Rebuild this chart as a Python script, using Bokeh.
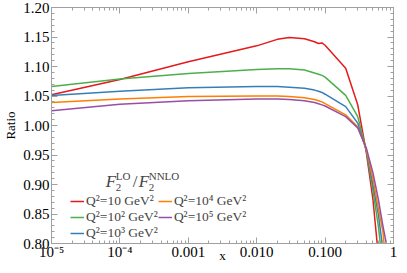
from bokeh.plotting import figure
from bokeh.models import (FixedTicker, LogAxis, LinearAxis, Legend, LegendItem, Label,
                          Range1d, CustomJSTickFormatter)
from bokeh.embed import file_html
from bokeh.resources import INLINE

# ---- data ----
x_vals = [1e-5, 1e-4, 1e-3, 0.01, 0.02, 0.03, 0.05, 0.07, 0.08, 0.09, 0.1,
          0.2, 0.3, 0.4, 0.5, 0.6, 0.7, 0.8, 0.9]
ratio_q10 = [1.052, 1.078, 1.108, 1.135, 1.146, 1.149, 1.147, 1.142, 1.139, 1.140, 1.136,
             1.097, 1.035, 0.955, 0.875, 0.78, 0.68, 0.57, 0.45]
ratio_q1e2 = [1.066, 1.079, 1.088, 1.095, 1.096, 1.096, 1.094, 1.089, 1.087, 1.085, 1.082,
              1.051, 1.015, 0.958, 0.89, 0.83, 0.76, 0.68, 0.58]
ratio_q1e3 = [1.051, 1.058, 1.064, 1.066, 1.066, 1.065, 1.063, 1.060, 1.058, 1.056, 1.053,
              1.032, 1.004, 0.958, 0.90, 0.85, 0.79, 0.72, 0.63]
ratio_q1e4 = [1.039, 1.045, 1.049, 1.050, 1.050, 1.049, 1.047, 1.044, 1.042, 1.040, 1.037,
              1.018, 0.998, 0.960, 0.91, 0.86, 0.82, 0.75, 0.67]
ratio_q1e5 = [1.025, 1.036, 1.042, 1.045, 1.045, 1.044, 1.042, 1.039, 1.037, 1.035, 1.033,
              1.015, 0.996, 0.962, 0.92, 0.875, 0.83, 0.795, 0.74]

series_names = ["Q²=10 GeV²", "Q²=10² GeV²", "Q²=10³ GeV²", "Q²=10⁴ GeV²", "Q²=10⁵ GeV²"]
series_values = [ratio_q10, ratio_q1e2, ratio_q1e3, ratio_q1e4, ratio_q1e5]
series_colors = ["#e41a1c", "#4daf4a", "#377eb8", "#ff7f00", "#984ea3"]

x_major = [1e-5, 1e-4, 1e-3, 1e-2, 1e-1, 1.0]
x_tick_labels = ["10⁻⁵", "10⁻⁴", "0.001", "0.010", "0.100", "1"]
y_major = [0.80, 0.85, 0.90, 0.95, 1.00, 1.05, 1.10, 1.15, 1.20]
y_tick_labels = ["0.80", "0.85", "0.90", "0.95", "1.00", "1.05", "1.10", "1.15", "1.20"]

FONT = "Liberation Serif"
FRAME = "#a0a0a0"

p = figure(width=399, height=265, x_axis_type="log",
           x_range=Range1d(1e-5, 1.0), y_range=Range1d(0.80, 1.20),
           output_backend="svg", toolbar_location=None,
           min_border_left=45, min_border_right=6, min_border_top=7, min_border_bottom=10)
p.grid.visible = False
p.outline_line_color = FRAME
p.background_fill_color = "white"

x_minor = [m * d for d in [1e-5, 1e-4, 1e-3, 1e-2, 1e-1] for m in range(2, 10)]
y_minor = [round(0.80 + 0.01 * i, 2) for i in range(41)]
xt = FixedTicker(ticks=x_major, minor_ticks=x_minor)
yt = FixedTicker(ticks=y_major, minor_ticks=y_minor)

xfmt = CustomJSTickFormatter(args=dict(labels=x_tick_labels),
                             code="return labels[Math.round(Math.log10(tick)) + 5];")
yfmt = CustomJSTickFormatter(args=dict(labels=y_tick_labels),
                             code="return labels[Math.round((tick - 0.8) / 0.05)];")
blank = CustomJSTickFormatter(code="return '';")


def style(ax):
    ax.axis_line_color = FRAME
    ax.major_tick_line_color = FRAME
    ax.minor_tick_line_color = FRAME
    ax.major_tick_in = 6
    ax.major_tick_out = 0
    ax.minor_tick_in = 3
    ax.minor_tick_out = 0
    ax.major_label_text_font = FONT
    ax.major_label_text_font_size = "15px"
    ax.major_label_text_color = "black"
    ax.axis_label_text_font = FONT
    ax.axis_label_text_font_style = "normal"
    ax.axis_label_text_font_size = "13px"
    ax.axis_label_text_color = "black"


p.xaxis.ticker = xt
p.xaxis.formatter = xfmt
p.yaxis.ticker = yt
p.yaxis.formatter = yfmt
style(p.xaxis[0])
style(p.yaxis[0])
p.yaxis.axis_label = "Ratio"
p.xaxis.axis_label = "x"
p.xaxis.major_label_standoff = 0
p.xaxis.axis_label_standoff = -15
p.yaxis.major_label_standoff = 2
p.yaxis.axis_label_standoff = 2

top = LogAxis(ticker=xt, formatter=blank)
right = LinearAxis(ticker=yt, formatter=blank)
for ax in (top, right):
    style(ax)
    ax.major_label_standoff = 0
    ax.major_label_text_font_size = "0px"
p.add_layout(top, "above")
p.add_layout(right, "right")

renderers = []
for vals, col in zip(series_values, series_colors):
    r = p.line(x_vals, vals, line_color=col, line_width=1.5)
    renderers.append(r)

items = [LegendItem(label=n, renderers=[r]) for n, r in zip(series_names, renderers)]
legend = Legend(items=items, ncols=2, orientation="vertical", location=(19, 2),
                background_fill_alpha=0, border_line_alpha=0, padding=0, margin=0,
                spacing=0, glyph_width=14, glyph_height=16, label_height=16,
                label_standoff=2, label_width=66,
                label_text_font=FONT, label_text_font_size="13.5px")
p.add_layout(legend, "center")

# legend title F2^LO / F2^NNLO
ty = 0.905
tx = 6.2e-5
parts = [("F", 0, 0, "17px", "italic"), ("2", 10, -6, "11px", "normal"),
         ("LO", 10, 6, "11px", "normal"), ("/", 27, 0, "17px", "normal"),
         ("F", 33, 0, "17px", "italic"), ("2", 43, -6, "11px", "normal"),
         ("NNLO", 43, 6, "11px", "normal")]
for t, dx, dy, fs, st in parts:
    p.add_layout(Label(x=tx, y=ty, x_offset=dx, y_offset=dy, text=t,
                       text_font=FONT, text_font_size=fs, text_font_style=st,
                       text_baseline="middle", text_align="left"))

open("out.html", "w").write(file_html(p, INLINE))
